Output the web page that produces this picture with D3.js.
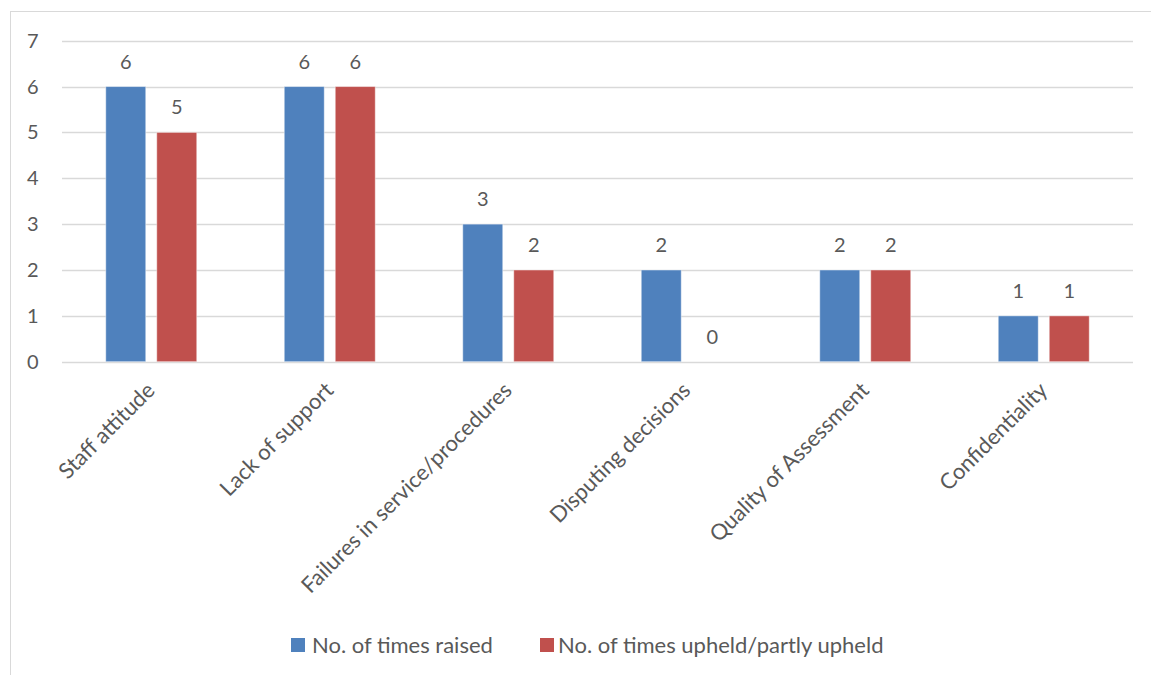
<!DOCTYPE html>
<html><head><meta charset="utf-8">
<script src="https://cdn.jsdelivr.net/npm/d3@7"></script>
<style>body{margin:0;background:#fff;} svg{display:block;}</style>
</head><body>
<script>
const categories = ["Staff attitude","Lack of support","Failures in service/procedures","Disputing decisions","Quality of Assessment","Confidentiality"];
const seriesNames = ["No. of times raised","No. of times upheld/partly upheld"];
const raised = [6,6,3,2,2,1];
const upheld = [5,6,2,0,2,1];
const yTicks = [0,1,2,3,4,5,6,7];
const colors = ["#4F81BD","#C0504D"];

(function(){
const W = 1151, H = 675;
const font = "Lato, 'Liberation Sans', sans-serif";
const txt = "#595959";
const svg = d3.select("body").append("svg").attr("width", W).attr("height", H);

svg.append("rect").attr("x",10.5).attr("y",11.5).attr("width",1160).attr("height",700)
  .attr("fill","none").attr("stroke","#D9D9D9");

const pl = 62, pr = 1133, pt = 40.7, pb = 361.7;
const x = d3.scaleBand().domain(categories).range([pl,pr]).paddingInner(0).paddingOuter(0);
const y = d3.scaleLinear().domain([0,7]).range([pb, pt]);
const barW = 40, gap = 11;
const x1 = d3.scaleBand().domain(seriesNames).range([0, barW*2+gap]).paddingInner(gap/(barW+gap)).paddingOuter(0);

svg.append("g").selectAll("line").data(yTicks).join("line")
  .attr("x1",pl).attr("x2",pr)
  .attr("y1",d=>Math.round(y(d))+0.5).attr("y2",d=>Math.round(y(d))+0.5)
  .attr("stroke","#D9D9D9").attr("stroke-width",1.5);

svg.append("g").selectAll("text").data(yTicks).join("text")
  .attr("x",38.5).attr("y",d=>y(d)).attr("dy","0.35em").attr("text-anchor","end")
  .attr("font-family",font).attr("font-size",20).attr("fill",txt).text(d=>d);

const data = categories.map((c,i)=>({c, vals:[raised[i], upheld[i]]}));
const g = svg.append("g").selectAll("g").data(data).join("g")
  .attr("transform",d=>`translate(${x(d.c)+(x.bandwidth()-(barW*2+gap))/2},0)`);
g.selectAll("rect").data(d=>d.vals.map((v,j)=>({v,s:seriesNames[j],j}))).join("rect")
  .attr("x",d=>x1(d.s)).attr("width",x1.bandwidth())
  .attr("y",d=>y(d.v)).attr("height",d=>y(0)-y(d.v))
  .attr("fill",d=>colors[d.j]).attr("stroke","rgba(255,255,255,0.45)").attr("stroke-width",1);
g.selectAll("text").data(d=>d.vals.map((v,j)=>({v,s:seriesNames[j],j}))).join("text")
  .attr("x",d=>x1(d.s)+x1.bandwidth()/2).attr("y",d=>y(d.v)-25).attr("dy","0.35em")
  .attr("text-anchor","middle").attr("font-family",font).attr("font-size",20).attr("fill",txt)
  .text(d=>d.v);

svg.append("g").selectAll("text").data(categories).join("text")
  .attr("transform",d=>`translate(${x(d)+x.bandwidth()/2+5},${pb+30}) rotate(-45)`)
  .attr("text-anchor","end").attr("font-family",font).attr("font-size",22).attr("fill",txt)
  .text(d=>d);

const legX = [291, 540];
const lg = svg.append("g").selectAll("g").data(seriesNames).join("g")
  .attr("transform",(d,i)=>`translate(${legX[i]},638)`);
lg.append("rect").attr("width",14).attr("height",14).attr("fill",(d,i)=>colors[i]);
lg.append("text").attr("x",(d,i)=>i===0?21:18).attr("y",7).attr("dy","0.35em")
  .attr("font-family",font).attr("font-size",22).attr("fill",txt).text(d=>d);
})();
</script>
</body></html>
